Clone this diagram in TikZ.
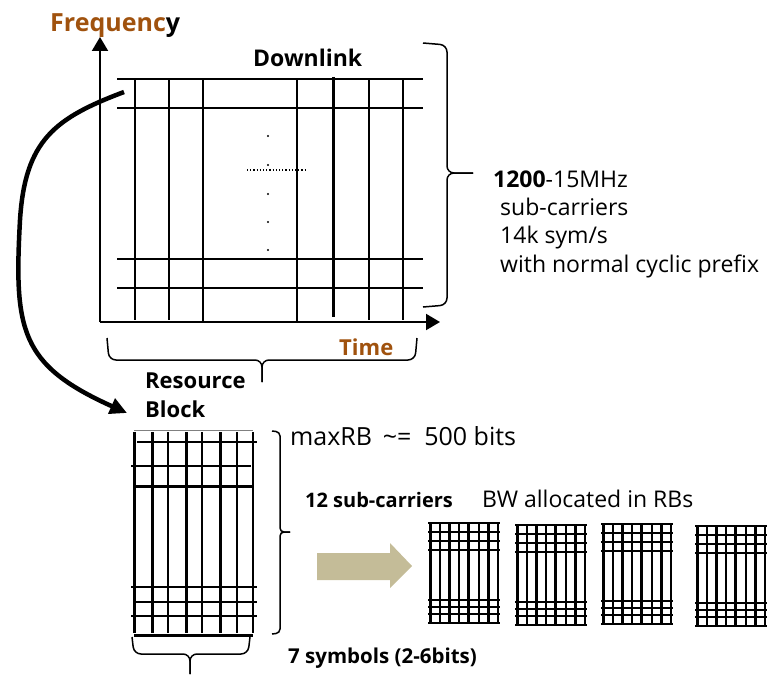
\documentclass[tikz,border=0pt]{standalone}
\usepackage{fontspec}
\setmainfont{Open Sans}
\usepackage{tikz}
\usetikzlibrary{arrows.meta,calc}
\usepackage{xcolor}
\definecolor{axisbrown}{HTML}{A0520E}
\definecolor{arrowtan}{HTML}{C4BC98}

\tikzset{
    rbline/.style={line width=2pt},
    rbthick/.style={line width=3pt},
    minirb/.pic={
        \foreach \i in {0,...,7} {
            \ifodd\i \draw[rbline] (\i*9.7,0) -- (\i*9.7,100);
            \else \draw[rbthick] (\i*9.7,0) -- (\i*9.7,100); \fi
        }
        \foreach \j in {0,9,18,27,77,84,91,100}
            \draw[rbline] (-2,\j) -- (70,\j);
    }
}

\begin{document}
\begin{tikzpicture}[
    x=1pt, y=-1pt,
    txt/.style={anchor=base west, inner sep=0pt},
    gridline/.style={line width=2pt},
    axisline/.style={line width=2pt, -{Triangle[length=14pt,width=16pt]}},
    curvearrow/.style={line width=4.5pt, -{Triangle[length=17pt,width=16pt]}},
    bracket/.style={line width=1.5pt, rounded corners=7pt},
    smallbracket/.style={line width=1.5pt, rounded corners=4pt}
]
\useasboundingbox (0,0) rectangle (770,674);

\coordinate (origin) at (100,322);
\coordinate (ftip) at (100,37);
\coordinate (ttip) at (440,322);
\draw[axisline] (origin) -- (ftip);
\draw[axisline] (origin) -- (ttip);

\node[txt, font=\fontsize{25}{30}\selectfont\bfseries] (freq) at (50,32) {\textcolor{axisbrown}{Frequenc}y};
\node[txt, font=\fontsize{23}{28}\selectfont\bfseries] (downlink) at (253,67) {Downlink};
\node[txt, font=\fontsize{22}{27}\selectfont\bfseries, text=axisbrown] (time) at (339,355) {Time};

\foreach \y in {79,108,259,288}
    \draw[gridline] (117,\y) -- (423,\y);
\foreach \x in {135,169,369,403}
    \draw[gridline] (\x,80) -- (\x,320);
\foreach \x in {203,297}
    \draw[gridline] (\x,80) -- (\x,322);
\draw[line width=3pt] (333,77) -- (333,317);

\foreach \y in {136,165,194,222,250}
    \fill (268,\y) circle (1.1pt);
\draw[dotted, line width=1.2pt] (247,170) -- (306,170);

\coordinate (dltip) at (473,173);
\draw[bracket] (423,43) -- (447,45) -- (447,173) -- (dltip);
\draw[bracket] (423,307) -- (447,305) -- (447,173) -- (dltip);
\coordinate (timetip) at (262,382);
\draw[bracket] (107,338) -- (109,360) -- (262,360) -- (timetip);
\draw[bracket] (417,338) -- (415,360) -- (262,360) -- (timetip);

\node[txt, font=\fontsize{23}{27}\selectfont] (subcount) at (493,187) {\textbf{1200}-15MHz};
\node[txt, font=\fontsize{23}{27}\selectfont] (subtxt) at (500,215) {sub-carriers};
\node[txt, font=\fontsize{23}{27}\selectfont] (symrate) at (500,243) {14k sym/s};
\node[txt, font=\fontsize{23}{27}\selectfont] (prefix) at (500,272) {with normal cyclic prefix};

\node[txt, font=\fontsize{22}{26}\selectfont\bfseries] (rblabel) at (145,388) {Resource};
\node[txt, font=\fontsize{22}{26}\selectfont\bfseries] (rblabel2) at (145,417) {Block};

\coordinate (rbstart) at (124,92);
\coordinate (rbend) at (127,413);
\draw[curvearrow] (rbstart) .. controls (55,118) and (25,140) .. (20,220)
    .. controls (14,330) and (20,365) .. (rbend);

\draw[line width=1pt, gray] (134,430) -- (253,430);
\foreach \x in {134,152,186,220}
    \draw[rbthick] (\x,432) -- (\x,633);
\foreach \x in {168,202,237,253}
    \draw[rbline] (\x,432) -- (\x,633);
\draw[rbline] (137,442) -- (257,442);
\draw[rbline] (131,466) -- (251,466);
\draw[rbthick] (134,486) -- (253,486);
\draw[rbline] (131,587) -- (257,587);
\draw[rbline] (134,602) -- (257,602);
\draw[rbline] (131,616) -- (257,616);
\draw[rbthick] (134,635) -- (253,635);

\coordinate (rbtip) at (290,532);
\draw[smallbracket] (272,431) -- (280,432) -- (280,532) -- (rbtip);
\draw[smallbracket] (272,634) -- (280,633) -- (280,532) -- (rbtip);
\coordinate (symtip) at (190,674);
\draw[bracket] (132,637) -- (134,654) -- (190,654) -- (symtip);
\draw[bracket] (250,637) -- (248,654) -- (190,654) -- (symtip);

\node[txt, font=\fontsize{25}{30}\selectfont] (maxrb) at (290,445) {maxRB\, \textasciitilde=\ \ 500 bits};
\node[txt, font=\fontsize{20}{24}\selectfont\bfseries] (twelve) at (305,507) {12 sub-carriers};
\node[txt, font=\fontsize{23}{27}\selectfont] (bwtxt) at (482,507) {BW allocated in RBs};
\node[txt, font=\fontsize{20.5}{25}\selectfont\bfseries] (seven) at (288,663) {7 symbols (2-6bits)};

\fill[arrowtan] (317,553) -- (390,553) -- (390,543) -- (412,566) -- (390,588) -- (390,580) -- (317,580) -- cycle;

\pic at (430,523) {minirb};
\pic at (517,525) {minirb};
\pic at (603,524) {minirb};
\pic at (697,526) {minirb};
\end{tikzpicture}
\end{document}
